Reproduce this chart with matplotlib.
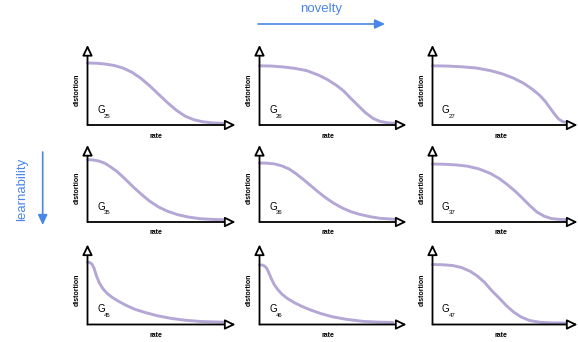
import matplotlib
matplotlib.use('Agg')
import matplotlib.pyplot as plt

W, H = 578, 342
CURVE = "#b4a7d6"
BLUE = "#4a86e8"

plt.rcParams.update({
    'font.family': ['Liberation Sans', 'DejaVu Sans'],
})

# ── curves (rate, distortion), normalised to the drawn axes ──────────────────
g25_x = [0, 0.06, 0.12, 0.18, 0.24, 0.30, 0.36, 0.42, 0.48, 0.54, 0.60, 0.66, 0.72, 0.78, 0.84, 0.915]
g25_y = [0.775, 0.772, 0.762, 0.744, 0.712, 0.66, 0.585, 0.49, 0.385, 0.28, 0.185, 0.11, 0.065, 0.04, 0.027, 0.02]

g26_x = [0, 0.08, 0.16, 0.24, 0.32, 0.40, 0.46, 0.52, 0.57, 0.62, 0.67, 0.72, 0.77, 0.82, 0.87, 0.923]
g26_y = [0.74, 0.737, 0.726, 0.708, 0.68, 0.625, 0.57, 0.50, 0.43, 0.335, 0.245, 0.155, 0.085, 0.045, 0.028, 0.02]

g27_x = [0, 0.1, 0.2, 0.3, 0.4, 0.48, 0.56, 0.63, 0.69, 0.74, 0.78, 0.81, 0.84, 0.87, 0.90, 0.938]
g27_y = [0.74, 0.737, 0.728, 0.713, 0.68, 0.64, 0.585, 0.52, 0.445, 0.37, 0.29, 0.215, 0.14, 0.075, 0.04, 0.029]

g35_x = [0, 0.04, 0.08, 0.12, 0.16, 0.20, 0.24, 0.28, 0.32, 0.37, 0.42, 0.48, 0.54, 0.61, 0.68, 0.76, 0.84, 0.914]
g35_y = [0.81, 0.805, 0.79, 0.76, 0.71, 0.655, 0.585, 0.51, 0.435, 0.35, 0.27, 0.195, 0.14, 0.095, 0.065, 0.043, 0.034, 0.03]

g36_x = [0, 0.05, 0.10, 0.15, 0.20, 0.25, 0.30, 0.35, 0.40, 0.45, 0.50, 0.56, 0.62, 0.68, 0.75, 0.82, 0.923]
g36_y = [0.766, 0.764, 0.755, 0.73, 0.69, 0.625, 0.55, 0.47, 0.39, 0.315, 0.25, 0.185, 0.135, 0.10, 0.07, 0.048, 0.035]

g37_x = [0, 0.08, 0.16, 0.24, 0.32, 0.40, 0.46, 0.52, 0.57, 0.62, 0.67, 0.72, 0.77, 0.82, 0.87, 0.938]
g37_y = [0.753, 0.75, 0.742, 0.725, 0.69, 0.63, 0.565, 0.48, 0.40, 0.31, 0.215, 0.13, 0.075, 0.045, 0.035, 0.03]

g45_x = [0.0, 0.015, 0.03, 0.045, 0.06, 0.08, 0.105, 0.135, 0.17, 0.21, 0.26, 0.32, 0.39, 0.47, 0.56, 0.66, 0.77, 0.914]
g45_y = [0.78, 0.775, 0.755, 0.70, 0.61, 0.52, 0.445, 0.385, 0.335, 0.29, 0.24, 0.19, 0.15, 0.11, 0.078, 0.053, 0.037, 0.029]

g46_x = [0.0, 0.02, 0.035, 0.05, 0.065, 0.08, 0.10, 0.125, 0.155, 0.19, 0.235, 0.29, 0.35, 0.42, 0.50, 0.59, 0.70, 0.80, 0.907]
g46_y = [0.745, 0.743, 0.73, 0.70, 0.64, 0.575, 0.50, 0.435, 0.375, 0.325, 0.275, 0.225, 0.18, 0.135, 0.095, 0.065, 0.04, 0.03, 0.025]

g47_x = [0, 0.07, 0.14, 0.20, 0.26, 0.31, 0.36, 0.41, 0.46, 0.51, 0.56, 0.61, 0.67, 0.74, 0.82, 0.935]
g47_y = [0.75, 0.747, 0.737, 0.712, 0.665, 0.605, 0.525, 0.42, 0.33, 0.235, 0.155, 0.095, 0.05, 0.028, 0.02, 0.018]

curves = [[(g25_x, g25_y), (g26_x, g26_y), (g27_x, g27_y)],
          [(g35_x, g35_y), (g36_x, g36_y), (g37_x, g37_y)],
          [(g45_x, g45_y), (g46_x, g46_y), (g47_x, g47_y)]]
subs = [["25", "26", "27"], ["35", "36", "37"], ["45", "46", "47"]]

# panel geometry in pixels (origin of the axes and arrow lengths)
col_x = [87.5, 259.5, 432.5]
col_w = [148, 147, 145]
row_y = [125, 222, 324.5]
row_h = [80, 77, 80]

fig = plt.figure(figsize=(W / 100, H / 100), dpi=100)

# overlay in pixel coords for text and the big arrows
ov = fig.add_axes([0, 0, 1, 1])
ov.set_xlim(0, W)
ov.set_ylim(H, 0)
ov.axis('off')

ov.text(321, 9, 'novelty', color=BLUE, fontsize=9.5, ha='center', va='center')
ov.annotate('', xy=(385, 24), xytext=(258, 24),
            arrowprops=dict(arrowstyle='-|>,head_length=0.6,head_width=0.28',
                            color=BLUE, lw=1.2, shrinkA=0, shrinkB=0))
ov.text(22, 189, 'learnability', color=BLUE, fontsize=9.5, rotation=90,
        ha='center', va='center')
ov.annotate('', xy=(42.7, 225), xytext=(42.7, 152),
            arrowprops=dict(arrowstyle='-|>,head_length=0.6,head_width=0.28',
                            color=BLUE, lw=1.2, shrinkA=0, shrinkB=0))

for r in range(3):
    for c in range(3):
        x0, w = col_x[c], col_w[c]
        y0, h = row_y[r], row_h[r]
        ax = fig.add_axes([x0 / W, (H - y0) / H, w / W, h / H])
        ax.set_xlim(0, 1)
        ax.set_ylim(0, 1)
        ax.axis('off')
        xs, ys = curves[r][c]
        ax.plot(xs, ys, color=CURVE, lw=2.1, solid_capstyle='round',
                solid_joinstyle='round', clip_on=False)
        for tip in [(1, 0), (0, 1)]:
            ax.annotate('', xy=tip, xytext=(0, 0), xycoords='axes fraction',
                        arrowprops=dict(arrowstyle='-|>,head_length=0.62,head_width=0.3',
                                        fc='white', ec='black', lw=1.3,
                                        shrinkA=0, shrinkB=0),
                        annotation_clip=False)

        ov.text(x0 - 10, y0 - 0.44 * h, 'distortion', fontsize=5, fontweight='bold',
                rotation=90, ha='center', va='center')
        ov.text(x0 + 68, y0 + 11, 'rate', fontsize=5, fontweight='bold',
                ha='center', va='center')
        ov.text(x0 + 9.5, y0 - 12, 'G', fontsize=7, ha='left', va='baseline')
        ov.text(x0 + 16.5, y0 - 9, subs[r][c], fontsize=4.3, ha='left', va='center')

fig.savefig('out.png', dpi=100)
